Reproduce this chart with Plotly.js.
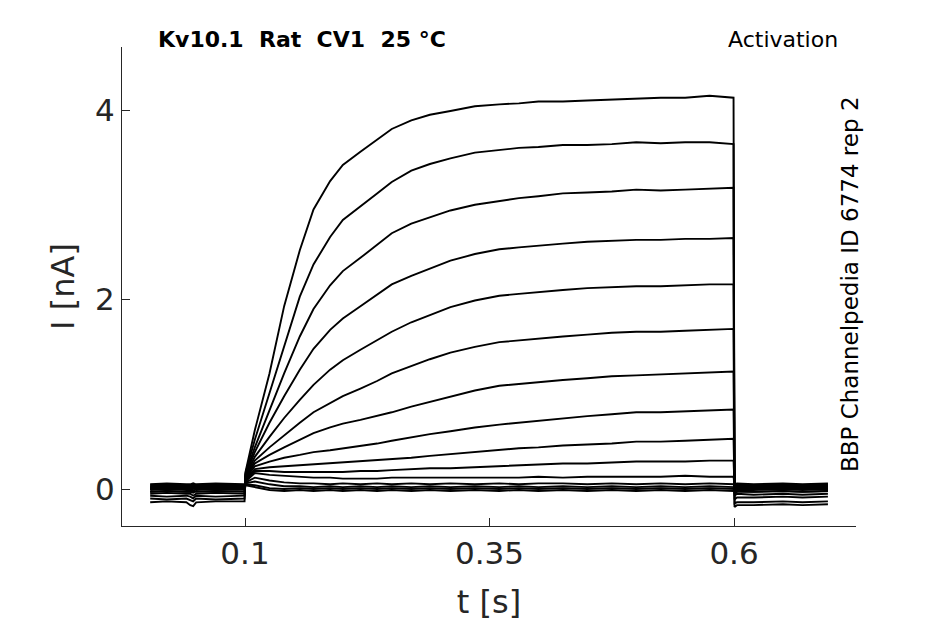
<!DOCTYPE html>
<html>
<head>
<meta charset="utf-8">
<script src="https://cdn.plot.ly/plotly-3.0.1.min.js"></script>
<style>
  body { margin: 0; background: white; }
  #plot { width: 945px; height: 624px; }
</style>
</head>
<body>
<div id="plot"></div>
<script>
// time samples [s]: holding, step (0.1 - 0.6 s), tail
var t = [0.003, 0.02, 0.04, 0.044, 0.047, 0.05, 0.07, 0.0995,
    0.1005, 0.11, 0.125, 0.14, 0.156, 0.17, 0.187, 0.2, 0.218, 0.235, 0.25, 0.27, 0.289,
    0.31, 0.335, 0.36, 0.38, 0.40, 0.425, 0.45, 0.475, 0.50, 0.525, 0.55, 0.575, 0.5995,
    0.6005, 0.603, 0.62, 0.65, 0.67, 0.696]

// currents [nA], one sweep per array
var i1 = [-0.14, -0.13, -0.14, -0.17, -0.18, -0.14, -0.13, -0.13,
    0.18, 0.62, 1.22, 1.93, 2.52, 2.95, 3.25, 3.42, 3.56, 3.69, 3.80, 3.89, 3.95,
    3.99, 4.04, 4.06, 4.07, 4.09, 4.09, 4.10, 4.11, 4.12, 4.13, 4.13, 4.15, 4.13,
    -0.19, -0.17, -0.17, -0.16, -0.17, -0.16]
var i2 = [-0.10, -0.11, -0.10, -0.12, -0.13, -0.10, -0.11, -0.10,
    0.17, 0.52, 1.01, 1.52, 2.03, 2.37, 2.66, 2.84, 2.98, 3.12, 3.24, 3.36, 3.43,
    3.49, 3.55, 3.58, 3.60, 3.61, 3.63, 3.63, 3.64, 3.66, 3.65, 3.66, 3.66, 3.64,
    -0.15, -0.14, -0.14, -0.13, -0.14, -0.13]
var i3 = [-0.07, -0.08, -0.07, -0.08, -0.10, -0.07, -0.08, -0.07,
    0.16, 0.44, 0.83, 1.22, 1.61, 1.90, 2.15, 2.30, 2.44, 2.58, 2.70, 2.80, 2.87,
    2.94, 3.00, 3.04, 3.07, 3.09, 3.12, 3.13, 3.14, 3.16, 3.15, 3.16, 3.17, 3.18,
    -0.11, -0.09, -0.09, -0.08, -0.09, -0.08]
var i4 = [-0.05, -0.04, -0.05, -0.05, -0.07, -0.05, -0.04, -0.05,
    0.15, 0.39, 0.70, 0.98, 1.26, 1.48, 1.68, 1.80, 1.93, 2.05, 2.16, 2.25, 2.33,
    2.41, 2.48, 2.53, 2.55, 2.57, 2.59, 2.61, 2.62, 2.63, 2.63, 2.64, 2.64, 2.65,
    -0.07, -0.05, -0.06, -0.05, -0.06, -0.05]
var i5 = [-0.03, -0.02, -0.03, -0.03, -0.04, -0.02, -0.03, -0.02,
    0.14, 0.34, 0.55, 0.75, 0.94, 1.10, 1.26, 1.36, 1.47, 1.57, 1.66, 1.76, 1.84,
    1.92, 1.99, 2.04, 2.06, 2.08, 2.10, 2.12, 2.13, 2.14, 2.14, 2.15, 2.16, 2.16,
    -0.05, -0.03, -0.03, -0.02, -0.03, -0.02]
var i6 = [-0.01, 0.00, -0.01, -0.01, -0.02, 0.00, -0.01, 0.00,
    0.13, 0.30, 0.44, 0.57, 0.70, 0.81, 0.91, 0.98, 1.06, 1.14, 1.22, 1.30, 1.37,
    1.44, 1.50, 1.55, 1.57, 1.59, 1.61, 1.63, 1.65, 1.66, 1.66, 1.67, 1.68, 1.69,
    -0.03, -0.01, -0.01, 0.00, -0.01, 0.00]
var i7 = [0.00, 0.01, 0.00, 0.00, 0.00, 0.01, 0.00, 0.01,
    0.12, 0.27, 0.36, 0.44, 0.52, 0.59, 0.65, 0.69, 0.73, 0.77, 0.81, 0.87, 0.92,
    0.98, 1.04, 1.09, 1.11, 1.13, 1.15, 1.17, 1.19, 1.20, 1.21, 1.22, 1.23, 1.24,
    -0.01, 0.00, 0.01, 0.00, 0.01, 0.00]
var i8 = [0.01, 0.02, 0.01, 0.01, 0.02, 0.01, 0.02, 0.01,
    0.11, 0.24, 0.29, 0.33, 0.36, 0.39, 0.41, 0.43, 0.45, 0.48, 0.51, 0.55, 0.58,
    0.61, 0.65, 0.68, 0.70, 0.72, 0.75, 0.77, 0.79, 0.81, 0.81, 0.82, 0.83, 0.84,
    0.01, 0.02, 0.01, 0.02, 0.01, 0.02]
var i9 = [0.02, 0.03, 0.02, 0.02, 0.03, 0.02, 0.03, 0.02,
    0.10, 0.21, 0.23, 0.24, 0.25, 0.26, 0.27, 0.28, 0.29, 0.30, 0.31, 0.33, 0.35,
    0.37, 0.39, 0.41, 0.43, 0.44, 0.46, 0.47, 0.48, 0.50, 0.50, 0.51, 0.52, 0.53,
    0.02, 0.03, 0.02, 0.03, 0.02, 0.03]
var i10 = [0.03, 0.04, 0.03, 0.03, 0.04, 0.03, 0.04, 0.03,
    0.09, 0.19, 0.19, 0.18, 0.18, 0.18, 0.18, 0.18, 0.19, 0.19, 0.20, 0.21, 0.22,
    0.22, 0.23, 0.24, 0.25, 0.26, 0.27, 0.27, 0.28, 0.29, 0.29, 0.29, 0.30, 0.30,
    0.03, 0.04, 0.03, 0.04, 0.03, 0.04]
var i11 = [0.04, 0.05, 0.04, 0.04, 0.05, 0.04, 0.05, 0.04,
    0.08, 0.17, 0.15, 0.14, 0.13, 0.12, 0.12, 0.11, 0.11, 0.11, 0.12, 0.12, 0.12,
    0.12, 0.12, 0.12, 0.12, 0.13, 0.12, 0.13, 0.13, 0.13, 0.13, 0.14, 0.13, 0.13,
    0.04, 0.05, 0.04, 0.05, 0.04, 0.05]
var i12 = [0.05, 0.06, 0.05, 0.05, 0.06, 0.05, 0.06, 0.05,
    0.07, 0.12, 0.09, 0.07, 0.06, 0.06, 0.05, 0.06, 0.05, 0.06, 0.05, 0.06, 0.05,
    0.06, 0.05, 0.06, 0.05, 0.06, 0.06, 0.05, 0.06, 0.05, 0.06, 0.05, 0.06, 0.05,
    0.05, 0.06, 0.05, 0.06, 0.05, 0.06]
var i13 = [0.02, 0.03, 0.02, 0.02, 0.03, 0.02, 0.03, 0.02,
    0.06, 0.08, 0.05, 0.03, 0.03, 0.02, 0.03, 0.02, 0.03, 0.02, 0.03, 0.02, 0.03,
    0.02, 0.03, 0.02, 0.03, 0.02, 0.03, 0.02, 0.03, 0.02, 0.03, 0.02, 0.03, 0.02,
    0.02, 0.03, 0.02, 0.03, 0.02, 0.03]
var i14 = [0.00, 0.01, 0.00, 0.00, 0.01, 0.00, 0.01, 0.00,
    0.05, 0.04, 0.01, 0.00, 0.01, 0.00, 0.01, 0.00, 0.01, 0.00, 0.01, 0.00, 0.01,
    0.00, 0.01, 0.00, 0.01, 0.00, 0.01, 0.00, 0.01, 0.00, 0.01, 0.00, 0.01, 0.00,
    0.00, 0.01, 0.00, 0.01, 0.00, 0.01]
var i15 = [-0.03, -0.02, -0.03, -0.03, -0.02, -0.03, -0.02, -0.03,
    0.04, 0.02, -0.01, -0.02, -0.01, -0.02, -0.01, -0.02, -0.01, -0.02, -0.01, -0.02, -0.01,
    -0.02, -0.01, -0.02, -0.01, -0.02, -0.01, -0.02, -0.01, -0.02, -0.01, -0.02, -0.01, -0.02,
    -0.03, -0.02, -0.03, -0.02, -0.03, -0.02]

var sweeps = [i1, i2, i3, i4, i5, i6, i7, i8, i9, i10, i11, i12, i13, i14, i15]

var xTicks = [0.1, 0.35, 0.6]
var xTickText = ['0.1', '0.35', '0.6']
var yTicks = [0, 2, 4]
var yTickText = ['0', '2', '4']

var data = []
for (var k = 0; k < sweeps.length; k++) {
    data.push({
        x: t,
        y: sweeps[k],
        mode: 'lines',
        line: { color: 'black', width: 1.9 },
        hoverinfo: 'skip'
    })
}

var axisColor = '#262626'
var font = 'DejaVu Sans, sans-serif'

var layout = {
    width: 945,
    height: 624,
    margin: { l: 122, r: 89, t: 47, b: 98, pad: 0 },
    paper_bgcolor: 'white',
    plot_bgcolor: 'white',
    showlegend: false,
    font: { family: font, color: axisColor },
    xaxis: {
        range: [-0.0258, 0.7247],
        tickvals: xTicks,
        ticktext: xTickText,
        ticks: 'inside',
        ticklen: 8,
        tickcolor: axisColor,
        showline: true,
        linecolor: axisColor,
        linewidth: 1,
        showgrid: false,
        zeroline: false,
        automargin: false,
        tickfont: { size: 31, color: axisColor },
        title: { text: 't [s]', font: { size: 32, color: axisColor }, standoff: 20 }
    },
    yaxis: {
        range: [-0.39, 4.665],
        tickvals: yTicks,
        ticktext: yTickText,
        ticks: 'inside',
        ticklen: 8,
        tickcolor: axisColor,
        showline: true,
        linecolor: axisColor,
        linewidth: 1,
        showgrid: false,
        zeroline: false,
        automargin: false,
        tickfont: { size: 31, color: axisColor },
        title: { text: 'I [nA]', font: { size: 32, color: axisColor }, standoff: 10 }
    },
    annotations: [
        {
            text: '<b>Kv10.1\u00a0\u00a0Rat\u00a0\u00a0CV1\u00a0\u00a025\u00a0°C</b>',
            xref: 'paper', yref: 'paper', x: 0.0463, y: 1.0167,
            xanchor: 'left', yanchor: 'middle', showarrow: false,
            font: { size: 22, color: 'black' }
        },
        {
            text: 'Activation',
            xref: 'paper', yref: 'paper', x: 0.978, y: 1.0167,
            xanchor: 'right', yanchor: 'middle', showarrow: false,
            font: { size: 22, color: 'black' }
        },
        {
            text: 'BBP Channelpedia ID 6774 rep 2',
            xref: 'paper', yref: 'paper', x: 0.9918, y: 0.505,
            xanchor: 'center', yanchor: 'middle', showarrow: false,
            textangle: -90,
            font: { size: 23, color: 'black' }
        }
    ]
}

var config = { responsive: false, displayModeBar: false, staticPlot: true }

Plotly.newPlot('plot', data, layout, config)
</script>
</body>
</html>
